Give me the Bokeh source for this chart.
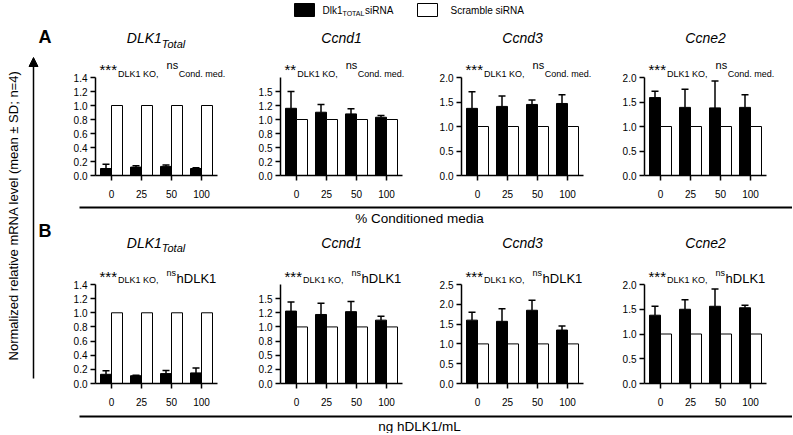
import math
from bokeh.plotting import figure
from bokeh.layouts import row, column
from bokeh.models import Range1d, ColumnDataSource, Whisker, TeeHead, FixedTicker, Arrow, NormalHead
from bokeh.core.properties import value
from bokeh.embed import file_html
from bokeh.resources import INLINE

FONT = "Liberation Sans"

# ---------------- data ----------------
doses = ["0", "25", "50", "100"]
gene_titles = ["DLK1", "Ccnd1", "Ccnd3", "Ccne2"]
scramble_mean = [1.0, 1.0, 1.0, 1.0]

# A: % conditioned media
cm_dlk1_mean = [0.10, 0.12, 0.13, 0.10]
cm_dlk1_sd = [0.06, 0.02, 0.02, 0.01]
cm_ccnd1_mean = [1.20, 1.13, 1.10, 1.04]
cm_ccnd1_sd = [0.30, 0.14, 0.09, 0.03]
cm_ccnd3_mean = [1.37, 1.41, 1.45, 1.47]
cm_ccnd3_sd = [0.34, 0.21, 0.09, 0.18]
cm_ccne2_mean = [1.59, 1.39, 1.38, 1.39]
cm_ccne2_sd = [0.13, 0.37, 0.55, 0.26]

# B: ng hDLK1/mL
hd_dlk1_mean = [0.13, 0.11, 0.14, 0.15]
hd_dlk1_sd = [0.05, 0.005, 0.045, 0.07]
hd_ccnd1_mean = [1.28, 1.22, 1.27, 1.12]
hd_ccnd1_sd = [0.16, 0.20, 0.18, 0.07]
hd_ccnd3_mean = [1.60, 1.57, 1.85, 1.35]
hd_ccnd3_sd = [0.20, 0.32, 0.25, 0.10]
hd_ccne2_mean = [1.38, 1.50, 1.56, 1.53]
hd_ccne2_sd = [0.18, 0.19, 0.35, 0.05]

ticks_14 = [0, 0.2, 0.4, 0.6, 0.8, 1.0, 1.2, 1.4]
labels_14 = ["0.0", "0.2", "0.4", "0.6", "0.8", "1.0", "1.2", "1.4"]
ticks_15 = [0, 0.25, 0.5, 0.75, 1.0, 1.25, 1.5]
labels_15 = ["0.0", "0.2", "0.5", "0.8", "1.0", "1.2", "1.5"]
ticks_20 = [0, 0.5, 1.0, 1.5, 2.0]
labels_20 = ["0.0", "0.5", "1.0", "1.5", "2.0"]
ticks_25 = [0, 0.5, 1.0, 1.5, 2.0, 2.5]
labels_25 = ["0.0", "0.5", "1.0", "1.5", "2.0", "2.5"]

cm_axis_max = [1.4, 1.75, 2.0, 2.0]
hd_axis_max = [1.4, 1.75, 2.5, 2.0]

legend_labels = ["Dlk1", "TOTAL", " siRNA", "Scramble siRNA"]
legend_colors = ["black", "white"]
row_letters = ["A", "B"]
xaxis_titles = ["% Conditioned media", "ng hDLK1/mL"]
yaxis_title = "Normalized relative mRNA level (mean \u00b1 SD; n=4)"

# ---------------- text metrics (Arial / Liberation Sans) ----------------
W = {' ': 278, '*': 389, ',': 278, '.': 278, '%': 889, '/': 278, '\u00b1': 584, '=': 584,
     '(': 333, ')': 333, ';': 278, 'A': 667, 'B': 667, 'C': 722, 'D': 722, 'E': 667,
     'K': 667, 'L': 556, 'M': 833, 'N': 722, 'O': 778, 'R': 722, 'S': 667, 'T': 611,
     'a': 556, 'b': 556, 'c': 500, 'd': 556, 'e': 556, 'g': 556, 'h': 556, 'i': 222,
     'k': 500, 'l': 222, 'm': 833, 'n': 556, 'o': 556, 'r': 333, 's': 500, 't': 278,
     'v': 500, 'z': 500}
MID = 0.36  # baseline lies this many em below a "middle" anchor


def tw(s, size):
    return sum(W.get(c, 556) for c in s) * size / 1000.0


# ---------------- layout constants (pixels) ----------------
LEFT_W = 65
HEADER_H = 24
BOTTOM = 30
A_FRAME_H = 151
B_FRAME_H = 157
SEP_A_H = 21
SEP_B_H = 20
A_AXIS_H = 98
B_AXIS_H = 99
PANEL_W = [185, 181, 183, 178]
PANEL_LEFT = 30
PX_PER_CAT = 30.0
AX_GAP = 16.0
BAR_W = 11.0


def txt(p, x, y, s, size, style="normal", align="left", xoff=0, angle=0):
    p.text(x=[x], y=[y], text=[s], text_font=value(FONT), text_font_size=f"{size}px",
           text_font_style=style, text_align=align, text_baseline="middle",
           x_offset=xoff, angle=angle, text_color="black")


def panel(width, frame_h, axis_h, ymax, ticks, tlabels, mean, sd, title, sub_title,
          annot, title_up):
    x0 = -AX_GAP / PX_PER_CAT
    frame_w = width - PANEL_LEFT
    x1 = x0 + frame_w / PX_PER_CAT
    yscale = ymax / axis_h
    p = figure(width=width, height=frame_h + BOTTOM, x_range=Range1d(x0, x1),
               y_range=Range1d(0, frame_h * yscale), output_backend="svg",
               toolbar_location=None, min_border_left=PANEL_LEFT, min_border_right=0,
               min_border_top=0, min_border_bottom=BOTTOM)
    p.outline_line_color = None
    p.grid.visible = False

    half = BAR_W / PX_PER_CAT / 2
    xs = list(range(len(doses)))
    src = ColumnDataSource(dict(xb=[i - half for i in xs], xw=[i + half for i in xs],
                                mean=mean, scr=scramble_mean,
                                upper=[m + s for m, s in zip(mean, sd)]))
    p.vbar(x="xb", top="mean", width=2 * half, source=src, fill_color="black",
           line_color="black", line_width=1)
    p.vbar(x="xw", top="scr", width=2 * half, source=src, fill_color="white",
           line_color="black", line_width=1)
    p.add_layout(Whisker(source=src, base="xb", lower="mean", upper="upper",
                         dimension="height", lower_head=None,
                         upper_head=TeeHead(size=7, line_width=1.5, line_color="black"),
                         line_width=1.5, line_color="black"))

    xa = p.xaxis[0]
    xa.bounds = (x0, len(doses) - 1 - x0)
    xa.ticker = FixedTicker(ticks=xs)
    xa.major_label_overrides = {i: d for i, d in enumerate(doses)}
    xa.major_label_standoff = 9
    ya = p.yaxis[0]
    ya.bounds = (0, ymax)
    ya.ticker = FixedTicker(ticks=ticks)
    ya.major_label_overrides = {t: l for t, l in zip(ticks, tlabels)}
    ya.major_label_standoff = 3
    for ax in (xa, ya):
        ax.major_tick_out = 5
        ax.major_tick_in = 0
        ax.minor_tick_out = 0
        ax.minor_tick_in = 0
        ax.axis_line_width = 1.5
        ax.axis_line_color = "black"
        ax.major_tick_line_width = 1.5
        ax.major_tick_line_color = "black"
        ax.major_label_text_font = FONT
        ax.major_label_text_font_size = "10px"
        ax.major_label_text_color = "black"

    def base(px_up, size):
        # data y of a "middle" anchor whose baseline is px_up pixels above the axis top
        return ymax + (px_up + MID * size) * yscale

    xc = (len(doses) - 1) / 2.0
    w_main = tw(title, 14)
    w_sub = tw(sub_title, 11) if sub_title else 0
    start = -(w_main + w_sub) / 2
    txt(p, xc, base(title_up, 14), title, 14, "italic", xoff=start)
    if sub_title:
        txt(p, xc, base(title_up - 4, 11), sub_title, 11, "italic", xoff=start + w_main)

    off = 4.0
    for s, size, up_px, gap in annot:
        txt(p, x0, base(up_px, size), s, size, xoff=off)
        off += tw(s, size) + gap
    return p


def annot_a(stars):
    return [(stars, 15, 3, 1), ("DLK1 KO,", 9, 0.5, 8), ("ns", 11, 8.5, 0.5),
            ("Cond. med.", 9, 0.5, 0)]


def annot_b():
    return [("***", 15, 3, 1), ("DLK1 KO,", 9, 1.5, 8), ("ns", 9, 8.5, 0.5),
            ("hDLK1", 13, 1.5, 0)]


cm_means = [cm_dlk1_mean, cm_ccnd1_mean, cm_ccnd3_mean, cm_ccne2_mean]
cm_sds = [cm_dlk1_sd, cm_ccnd1_sd, cm_ccnd3_sd, cm_ccne2_sd]
hd_means = [hd_dlk1_mean, hd_ccnd1_mean, hd_ccnd3_mean, hd_ccne2_mean]
hd_sds = [hd_dlk1_sd, hd_ccnd1_sd, hd_ccnd3_sd, hd_ccne2_sd]
tick_sets = {1.4: (ticks_14, labels_14), 1.75: (ticks_15, labels_15),
             2.0: (ticks_20, labels_20), 2.5: (ticks_25, labels_25)}
cm_stars = ["***", "**", "***", "***"]

row_a = []
row_b = []
for k in range(4):
    sub = "Total" if k == 0 else ""
    t, l = tick_sets[cm_axis_max[k]]
    row_a.append(panel(PANEL_W[k], A_FRAME_H, A_AXIS_H, cm_axis_max[k], t, l,
                       cm_means[k], cm_sds[k], gene_titles[k], sub, annot_a(cm_stars[k]), 34))
    t, l = tick_sets[hd_axis_max[k]]
    row_b.append(panel(PANEL_W[k], B_FRAME_H, B_AXIS_H, hd_axis_max[k], t, l,
                       hd_means[k], hd_sds[k], gene_titles[k], sub, annot_b(), 36.5))

RIGHT_W = sum(PANEL_W)
TOTAL_H = HEADER_H + A_FRAME_H + BOTTOM + SEP_A_H + B_FRAME_H + BOTTOM + SEP_B_H


def blank(width, height, x0):
    # page-pixel coordinates: x as on the page, y = (top of this figure + height) - page_y
    p = figure(width=width, height=height, x_range=Range1d(x0, x0 + width),
               y_range=Range1d(0, height), x_axis_type=None, y_axis_type=None,
               output_backend="svg", toolbar_location=None, min_border=0)
    p.min_border_left = 0
    p.min_border_right = 0
    p.min_border_top = 0
    p.min_border_bottom = 0
    p.outline_line_color = None
    p.grid.visible = False
    return p


def anchor(top, height, baseline_py, size):
    return top + height - (baseline_py - MID * size)


# left strip (page y 0..TOTAL_H)
left = blank(LEFT_W, TOTAL_H, 0)
txt(left, 12.5, TOTAL_H - 215, yaxis_title, 13, align="center", angle=math.pi / 2)
left.add_layout(Arrow(x_start=33, y_start=TOTAL_H - 378, x_end=33, y_end=TOTAL_H - 57,
                      line_width=1.5, line_color="black",
                      end=NormalHead(size=9, fill_color="black", line_color="black")))
txt(left, 38, anchor(0, TOTAL_H, 43, 18), row_letters[0], 18, "bold")
txt(left, 38, anchor(0, TOTAL_H, 237, 18), row_letters[1], 18, "bold")

# header with legend (page y 0..HEADER_H)
header = blank(RIGHT_W, HEADER_H, LEFT_W)
header.rect(x=[304, 427], y=[HEADER_H - 9.5, HEADER_H - 9.5], width=20, height=13,
            fill_color=legend_colors, line_color="black", line_width=1)
lx = 322
txt(header, lx, anchor(0, HEADER_H, 13.5, 10), legend_labels[0], 10)
lx += tw(legend_labels[0], 10)
txt(header, lx, anchor(0, HEADER_H, 16, 7), legend_labels[1], 7)
lx += tw(legend_labels[1], 7)
txt(header, lx, anchor(0, HEADER_H, 13.5, 10), legend_labels[2], 10)
txt(header, 450, anchor(0, HEADER_H, 13.5, 10), legend_labels[3], 10)


def sep(title, top, height, line_py, base_py):
    p = blank(RIGHT_W, height, LEFT_W)
    p.segment(x0=[79], y0=[top + height - line_py], x1=[LEFT_W + RIGHT_W],
              y1=[top + height - line_py], line_color="black", line_width=2)
    txt(p, 419, anchor(top, height, base_py, 13.5), title, 13.5, align="center")
    return p


top_sep_a = HEADER_H + A_FRAME_H + BOTTOM
top_sep_b = top_sep_a + SEP_A_H + B_FRAME_H + BOTTOM
sep_a = sep(xaxis_titles[0], top_sep_a, SEP_A_H, 207, 223)
sep_b = sep(xaxis_titles[1], top_sep_b, SEP_B_H, 416, 431)

layout = row(left, column(header, row(*row_a), sep_a, row(*row_b), sep_b))

open("out.html", "w").write(file_html(layout, INLINE))
